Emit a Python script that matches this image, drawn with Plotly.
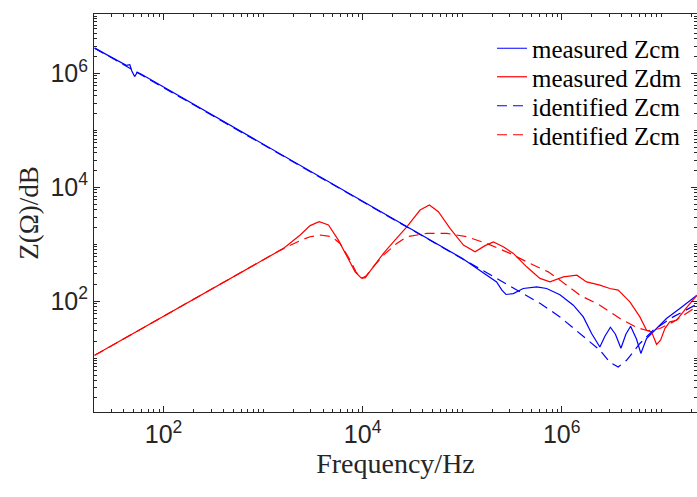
import plotly.graph_objects as go

# values (Hz, ohm)
freq_cm_meas = [20.3, 42.2, 45.8, 48.0, 51.2, 54.5, 59.3, 1.0e5, 2.22e5, 2.51e5, 2.76e5, 3.27e5,
                4.11e5, 5.61e5, 7.06e5, 9.61e5, 1.31e6, 1.65e6, 2.00e6, 2.42e6, 2.72e6, 3.09e6,
                3.47e6, 3.94e6, 4.42e6, 4.93e6, 5.66e6, 6.25e6, 7.13e6, 8.64e6, 1.13e7, 1.54e7, 2.29e7]
z_cm_meas = [2.76e6, 1.38e6, 1.41e6, 1.10e6, 8.75e5, 1.04e6, 9.68e5, 565, 218, 156, 131, 136,
             167, 178, 167, 130, 85.1, 53.0, 27.0, 15.7, 24.3, 34.9,
             26.3, 14.9, 26.3, 36.4, 21.5, 12.1, 22.1, 30.9, 49.7, 74.5, 127]

freq_cm_id = [20.3, 1.0e5, 6.05e5, 9.61e5, 1.65e6, 2.42e6, 3.05e6, 3.70e6, 4.49e6, 6.11e6,
              8.31e6, 1.32e7, 2.29e7]
z_cm_id = [2.76e6, 565, 92, 53.0, 23.6, 13.8, 8.47, 7.00, 9.18, 18.1,
           30.9, 53.0, 88.6]

freq_dm_meas = [20.3, 741, 1.60e3, 2.36e3, 2.97e3, 3.66e3, 4.54e3, 5.71e3, 6.93e3, 8.41e3, 9.66e3,
                1.06e4, 1.28e4, 1.62e4, 2.04e4, 2.78e4, 3.78e4, 4.69e4, 5.77e4, 7.56e4, 1.03e5,
                1.35e5, 1.70e5, 2.06e5, 2.59e5, 3.27e5, 4.45e5, 6.05e5, 7.63e5, 1.04e6, 1.42e6,
                1.78e6, 2.42e6, 3.05e6, 3.70e6, 4.85e6, 6.11e6, 7.13e6, 8.00e6, 8.99e6, 9.86e6,
                1.09e7, 1.22e7, 1.43e7, 1.80e7, 2.29e7]
z_dm_meas = [11.2, 400, 843, 1.45e3, 2.12e3, 2.48e3, 2.17e3, 1.18e3, 601, 327, 257,
             257, 401, 689, 1.10e3, 2.02e3, 3.97e3, 4.86e3, 3.71e3, 1.90e3, 964,
             735, 944, 1.10e3, 900, 689, 401, 251, 218, 267, 286,
             218, 191, 167, 156, 97.2, 53.0, 30.9, 28.9, 17.5, 20.7,
             33.1, 43.3, 46.3, 76.9, 127]

freq_dm_id = [20.3, 1.49e3, 2.36e3, 2.97e3, 3.74e3, 4.91e3, 5.94e3, 7.49e3, 8.60e3, 9.81e3,
              1.08e4, 1.28e4, 1.62e4, 2.20e4, 2.78e4, 4.42e4, 7.00e4, 1.11e5, 1.77e5, 3.03e5,
              4.80e5, 7.33e5, 9.61e5, 1.53e6, 2.42e6, 3.85e6, 5.66e6, 7.35e6, 9.70e6, 1.32e7,
              1.80e7, 2.29e7]
z_dm_id = [11.2, 788, 1.16e3, 1.35e3, 1.45e3, 1.35e3, 1.03e3, 526, 324, 251,
           275, 401, 643, 1.03e3, 1.35e3, 1.55e3, 1.55e3, 1.35e3, 1.03e3, 689,
           460, 327, 234, 127, 85.1, 49.7, 34.5, 30.3, 33.1, 43.3,
           61.5, 81.7]

major_vals = [1e2, 1e4, 1e6]
major_text = ["10<sup>2</sup>", "10<sup>4</sup>", "10<sup>6</sup>"]
minor_vals = [m * 10 ** e for e in range(0, 8) for m in range(1, 10)]

blue = "#0000ff"
red = "#ff0000"
dash = "10px,6px"
serif = "Liberation Serif, Times New Roman"

fig = go.Figure()
fig.add_trace(go.Scatter(x=freq_cm_meas, y=z_cm_meas, mode="lines", name="measured Zcm",
                         line=dict(color=blue, width=1.2), legend="legend"))
fig.add_trace(go.Scatter(x=freq_dm_meas, y=z_dm_meas, mode="lines", name="measured Zdm",
                         line=dict(color=red, width=1.2), legend="legend2"))
fig.add_trace(go.Scatter(x=freq_cm_id, y=z_cm_id, mode="lines", name="identified Zcm",
                         line=dict(color=blue, width=1.2, dash=dash), legend="legend3"))
fig.add_trace(go.Scatter(x=freq_dm_id, y=z_dm_id, mode="lines", name="identified Zcm",
                         line=dict(color=red, width=1.2, dash=dash), legend="legend4"))

axis_common = dict(
    type="log", showgrid=False, zeroline=False, automargin=False,
    showline=True, linecolor="#262626", linewidth=1, mirror="ticks",
    ticks="inside", ticklen=6, tickcolor="#262626", tickwidth=1,
    tickmode="array", tickvals=major_vals, ticktext=major_text,
    tickfont=dict(family="Liberation Sans, Arial", size=25, color="#262626"),
    minor=dict(ticks="inside", ticklen=3, tickcolor="#262626", tickmode="array",
               tickvals=minor_vals, showgrid=False),
)

fig.update_xaxes(range=[1.301, 7.36], **axis_common,
                 title=dict(text="Frequency/Hz", standoff=0,
                            font=dict(family=serif, size=28, color="#262626")))
fig.update_yaxes(range=[0.055, 7.04], **axis_common,
                 title=dict(text="Z(Ω)/dB", standoff=4,
                            font=dict(family=serif, size=27, color="#262626")))

# one legend per row so the row spacing matches the reference
legend_rows = [48.5, 77, 106, 135]
legend_style = dict(x=0.66, xanchor="left", yanchor="middle",
                    bgcolor="rgba(255,255,255,0)", borderwidth=0,
                    font=dict(family=serif, size=25, color="#000000"))
legends = {}
for i, row in enumerate(legend_rows):
    key = "legend" if i == 0 else "legend%d" % (i + 1)
    legends[key] = dict(y=1 - (row - 14) / 398, **legend_style)

fig.update_layout(
    width=697, height=497, showlegend=True,
    margin=dict(l=94, r=0, t=14, b=85, autoexpand=False),
    paper_bgcolor="white", plot_bgcolor="white",
    **legends,
)

fig.write_html("out.html", config={"displayModeBar": False},
               post_script="document.body.style.margin='0';")
